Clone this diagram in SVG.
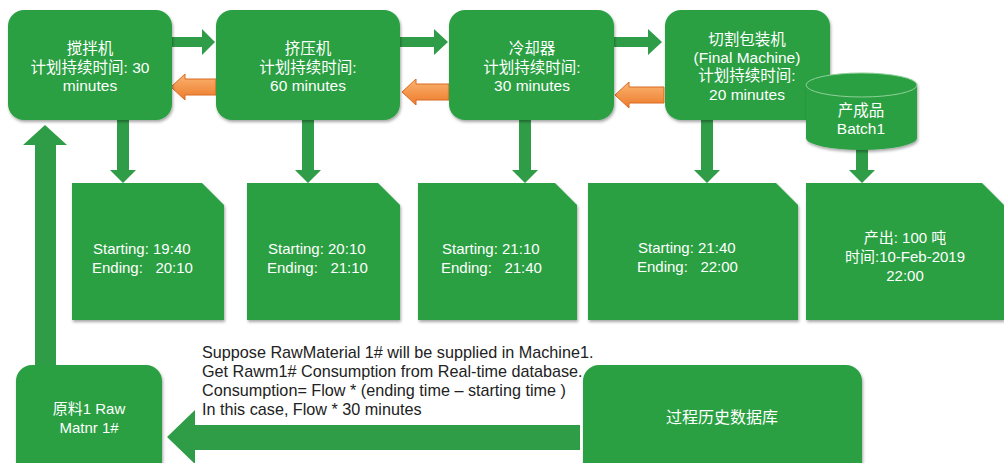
<svg xmlns="http://www.w3.org/2000/svg" width="1004" height="463" viewBox="0 0 1004 463">
<defs>
<filter id="sh" x="-10%" y="-10%" width="130%" height="130%">
<feDropShadow dx="1" dy="2" stdDeviation="1.5" flood-color="#000" flood-opacity="0.35"/>
</filter>
<linearGradient id="og" x1="0" y1="0" x2="0" y2="1">
<stop offset="0" stop-color="#fbb572"/>
<stop offset="1" stop-color="#ec7a2a"/>
</linearGradient>
</defs>
<style>
.box{fill:#2ba043;filter:url(#sh)}
.ga{fill:#2f9d47}
.oa{fill:url(#og);stroke:#d86b22;stroke-width:1}
.t{font-family:"Liberation Sans","Noto Sans CJK SC",sans-serif;fill:#fff;font-size:15.5px;text-anchor:middle}
.d{font-family:"Liberation Sans","Noto Sans CJK SC",sans-serif;fill:#fff;font-size:15px;white-space:pre}
.n{font-family:"Liberation Sans",sans-serif;fill:#222;font-size:16.2px;white-space:pre}
</style>
<rect width="1004" height="463" fill="#fff"/>

<g id="connectors">
<path class="ga" d="M171,37 H202 V29 L215,42 L202,55 V47 H171 Z"/>
<path class="ga" d="M400,37 H434 V29 L448,42 L434,55 V47 H400 Z"/>
<path class="ga" d="M614,37 H648 V29 L662,42 L648,55 V47 H614 Z"/>
<path class="oa" d="M216,79 H185 V74 L171,87 L185,100 V95 H216 Z"/>
<path class="oa" d="M449,84 H416 V79 L402,92 L416,105 V100 H449 Z"/>
<path class="oa" d="M664,87 H629 V82 L615,95 L629,108 V103 H664 Z"/>
<path class="ga" d="M117,120 V170 H110 L123,183 L136,170 H129 V120 Z"/>
<path class="ga" d="M302,120 V170 H295 L308,183 L321,170 H314 V120 Z"/>
<path class="ga" d="M519,120 V170 H512 L525,183 L538,170 H531 V120 Z"/>
<path class="ga" d="M701,120 V170 H694 L707,183 L720,170 H713 V120 Z"/>
<path class="ga" d="M856,148 V170 H849 L862,183 L875,170 H868 V148 Z"/>
<path class="ga" d="M35,366 V145 H23 L45,125 L67,145 H56 V366 Z"/>
<path class="ga" d="M580,425 H195 V410 L167,437 L195,464 V450 H580 Z"/>
</g>

<g id="mixer">
<rect class="box" x="8" y="10" width="164" height="110" rx="16"/>
<text class="t" x="90" y="54">搅拌机</text>
<text class="t" x="90" y="73">计划持续时间: 30</text>
<text class="t" x="90" y="91">minutes</text>
</g>
<g id="extruder">
<rect class="box" x="216" y="10" width="184" height="110" rx="16"/>
<text class="t" x="308" y="54">挤压机</text>
<text class="t" x="308" y="73">计划持续时间:</text>
<text class="t" x="308" y="91">60 minutes</text>
</g>
<g id="cooler">
<rect class="box" x="449" y="10" width="165" height="110" rx="16"/>
<text class="t" x="532" y="54">冷却器</text>
<text class="t" x="532" y="73">计划持续时间:</text>
<text class="t" x="532" y="91">30 minutes</text>
</g>
<g id="cutter">
<rect class="box" x="665" y="10" width="165" height="110" rx="16"/>
<text class="t" x="747" y="45">切割包装机</text>
<text class="t" x="747" y="63">(Final Machine)</text>
<text class="t" x="747" y="81">计划持续时间:</text>
<text class="t" x="747" y="100">20 minutes</text>
</g>
<g id="batch">
<path class="box" d="M806,85 A55.5,12 0 0,1 917,85 V138 A55.5,12 0 0,1 806,138 Z"/>
<ellipse cx="861.5" cy="85" rx="55.5" ry="12" fill="none" stroke="#8fd09a" stroke-width="1"/>
<text class="t" x="861" y="116">产成品</text>
<text class="t" x="861" y="134">Batch1</text>
</g>

<g id="doc1">
<path class="box" d="M72,183 H202 L224,205 V320 H72 Z"/>
<text class="d" x="93" y="254">Starting: 19:40</text>
<text class="d" x="92" y="273">Ending:   20:10</text>
</g>
<g id="doc2">
<path class="box" d="M247,183 H378 L400,205 V320 H247 Z"/>
<text class="d" x="268" y="254">Starting: 20:10</text>
<text class="d" x="267" y="273">Ending:   21:10</text>
</g>
<g id="doc3">
<path class="box" d="M418,183 H555 L577,205 V320 H418 Z"/>
<text class="d" x="442" y="254">Starting: 21:10</text>
<text class="d" x="441" y="273">Ending:   21:40</text>
</g>
<g id="doc4">
<path class="box" d="M588,183 H776 L798,205 V320 H588 Z"/>
<text class="d" x="638" y="253">Starting: 21:40</text>
<text class="d" x="637" y="272">Ending:   22:00</text>
</g>
<g id="doc5">
<path class="box" d="M806,183 H982 L1004,205 V320 H806 Z"/>
<text class="t" x="905" y="243" style="font-size:15px">产出: 100 吨</text>
<text class="t" x="905" y="262" style="font-size:15px">时间:10-Feb-2019</text>
<text class="t" x="905" y="281" style="font-size:15px">22:00</text>
</g>

<g id="note">
<text class="n" x="202" y="358">Suppose RawMaterial 1# will be supplied in Machine1.</text>
<text class="n" x="202" y="377">Get Rawm1# Consumption from Real-time database.</text>
<text class="n" x="202" y="396">Consumption= Flow * (ending time – starting time )</text>
<text class="n" x="202" y="415">In this case, Flow * 30 minutes</text>
</g>

<g id="rawmaterial">
<rect class="box" x="16" y="365" width="146" height="115" rx="16"/>
<text class="t" x="89" y="414" style="font-size:15px">原料1 Raw</text>
<text class="t" x="89" y="433" style="font-size:15px">Matnr 1#</text>
</g>
<g id="historian">
<rect class="box" x="583" y="365" width="279" height="115" rx="16"/>
<text class="t" x="722" y="423" style="font-size:16px">过程历史数据库</text>
</g>
</svg>
